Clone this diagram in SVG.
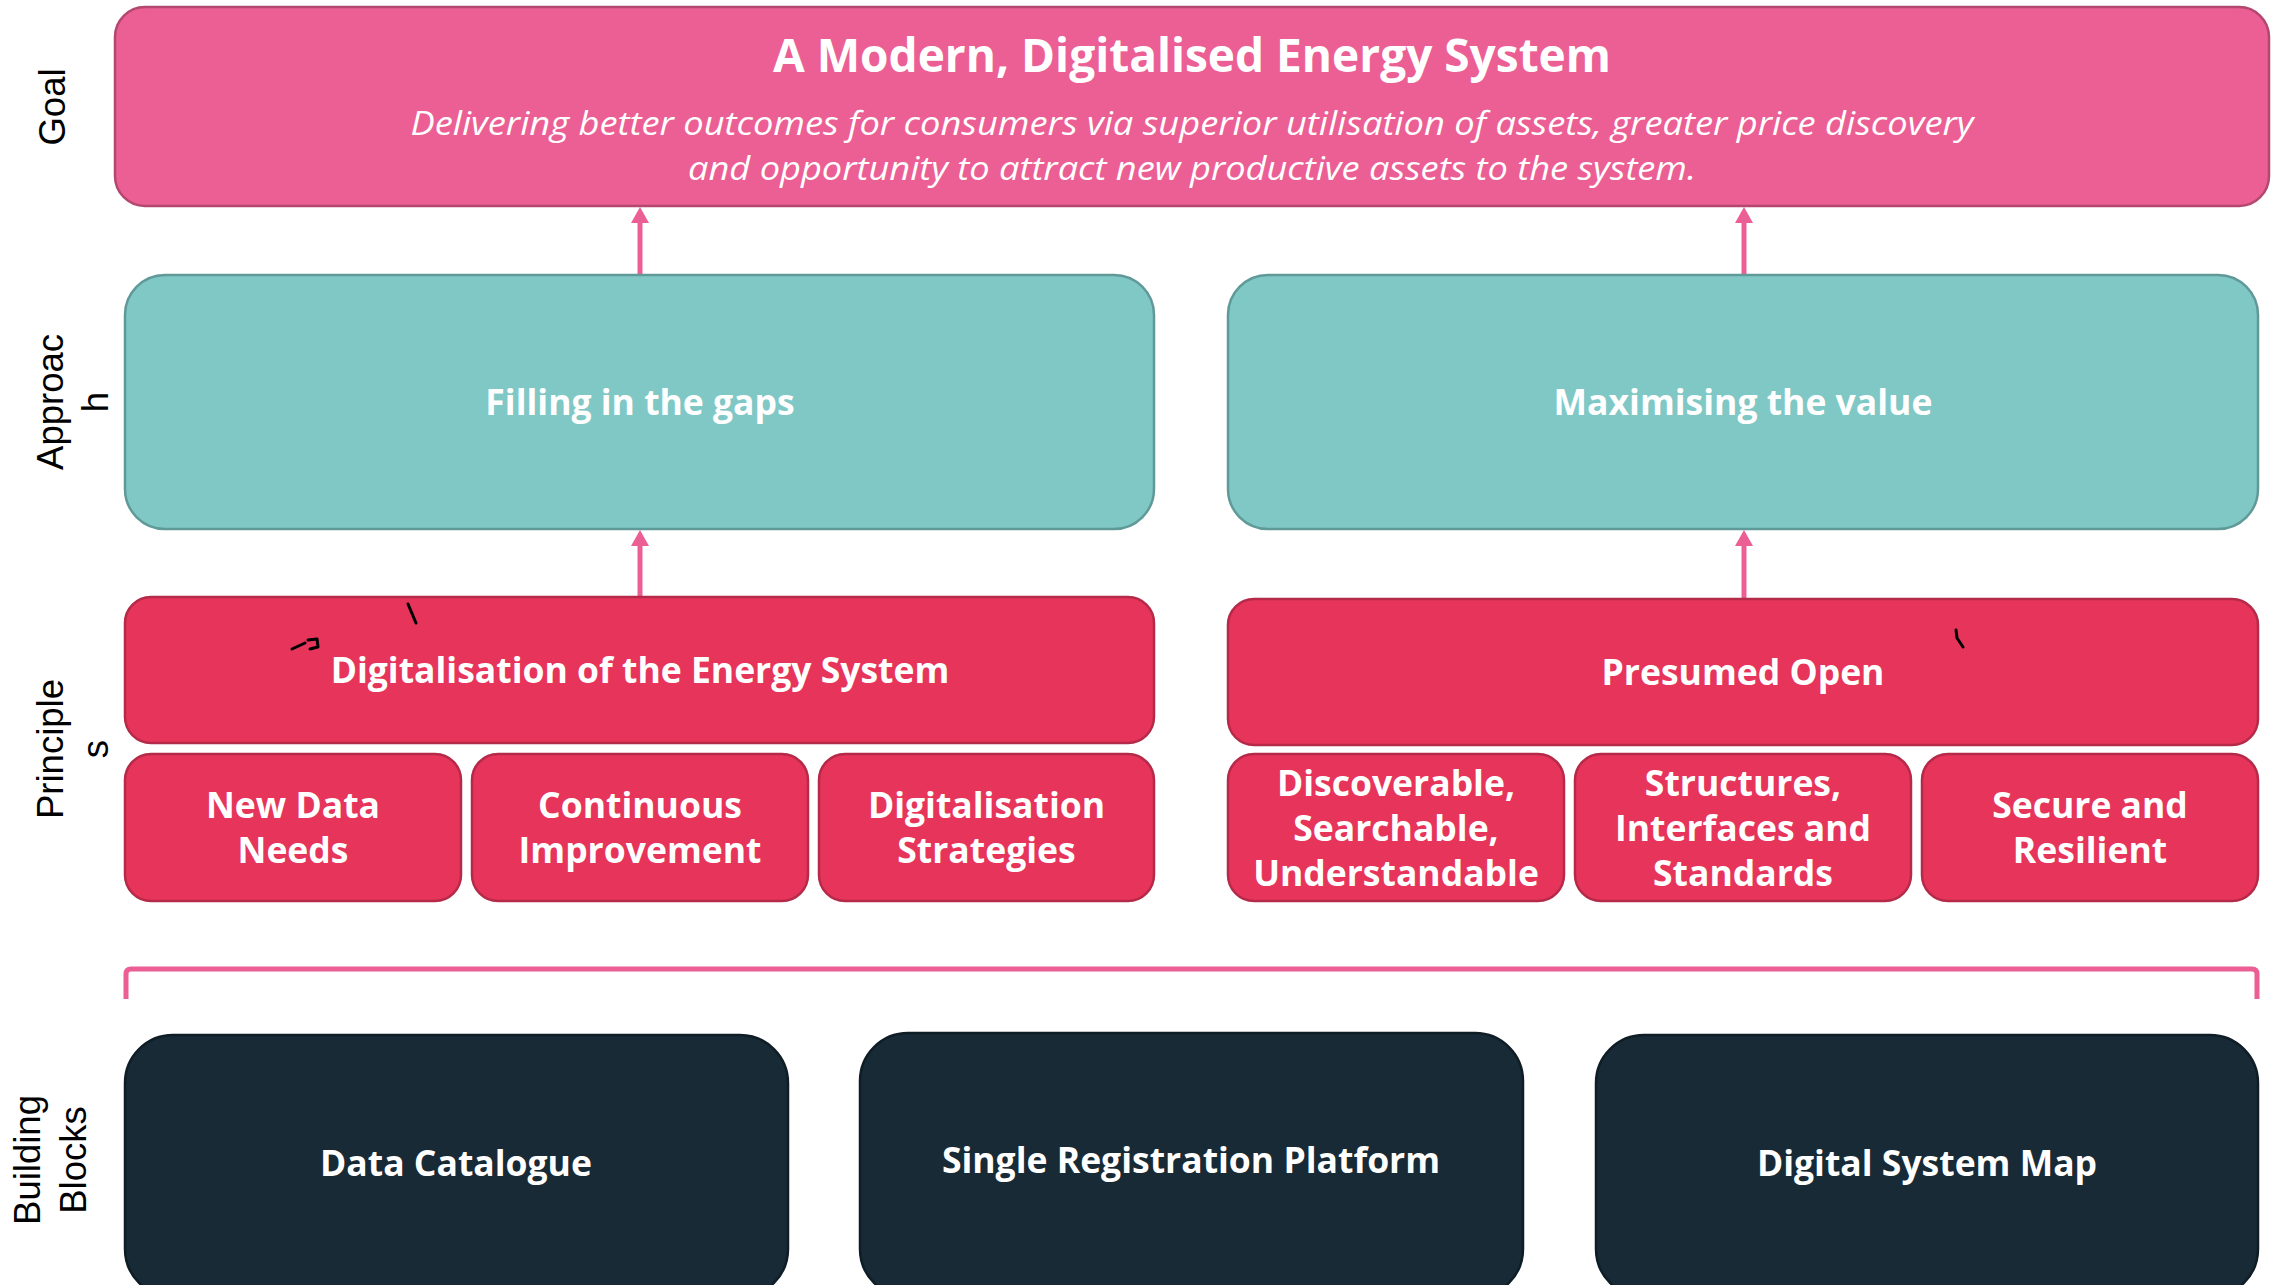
<svg xmlns="http://www.w3.org/2000/svg" width="2282" height="1285" viewBox="0 0 2282 1285">
  <defs>
    <style>
      .goal { fill: #EC5F95; stroke: #B4476F; stroke-width: 2.5; }
      .appr { fill: #80C8C6; stroke: #5F9A98; stroke-width: 2.5; }
      .prin { fill: #E7345A; stroke: #B52A48; stroke-width: 2.5; }
      .blk { fill: #182A35; stroke: #0F1D26; stroke-width: 2.5; }
      .lbl { font-family: "Open Sans", "Noto Sans", sans-serif; font-weight: 700; font-size: 35.5px; fill: #FFFFFF; text-anchor: middle; }
      .title { font-family: "Open Sans", "Noto Sans", sans-serif; font-weight: 700; font-size: 46px; fill: #FFFFFF; text-anchor: middle; }
      .sub { font-family: "Open Sans", "Noto Sans", sans-serif; font-style: italic; font-size: 33px; fill: #FFFFFF; text-anchor: middle; }
      .side { font-family: "Liberation Sans", Arial, sans-serif; font-size: 36.5px; fill: #000000; text-anchor: middle; }
      .conn { stroke: #EC5F95; stroke-width: 5; fill: none; }
      .mark { stroke: #000000; stroke-width: 3; fill: none; stroke-linecap: round; stroke-linejoin: round; }
    </style>
    <marker id="ah" viewBox="0 0 16 18" refX="8" refY="9" markerWidth="16" markerHeight="18" markerUnits="userSpaceOnUse" orient="auto">
      <path d="M0,0 L16,9 L0,18 z" fill="#EC5F95"/>
    </marker>
  </defs>
  <rect width="2282" height="1285" fill="#FFFFFF"/>

  <g id="side-labels">
    <text class="side" x="65" y="107" transform="rotate(-90 65 107)">Goal</text>
    <text class="side" transform="rotate(-90 63 402)" x="63" y="402">Approac</text>
    <text class="side" transform="rotate(-90 108 402)" x="108" y="402">h</text>
    <text class="side" transform="rotate(-90 63 749)" x="63" y="749">Principle</text>
    <text class="side" transform="rotate(-90 108 749)" x="108" y="749">s</text>
    <text class="side" transform="rotate(-90 40 1160)" x="40" y="1160">Building</text>
    <text class="side" transform="rotate(-90 86 1160)" x="86" y="1160">Blocks</text>
  </g>

  <g id="connectors">
    <line class="conn" x1="640" y1="275" x2="640" y2="215" marker-end="url(#ah)"/>
    <line class="conn" x1="1744" y1="275" x2="1744" y2="215" marker-end="url(#ah)"/>
    <line class="conn" x1="640" y1="597" x2="640" y2="538" marker-end="url(#ah)"/>
    <line class="conn" x1="1744" y1="599" x2="1744" y2="538" marker-end="url(#ah)"/>
    <path class="conn" d="M126,999 L126,974 Q126,969 131,969 L2252,969 Q2257,969 2257,974 L2257,999"/>
  </g>

  <g id="goal">
    <rect class="goal" x="115" y="7" width="2154" height="199" rx="30" ry="30"/>
    <text class="title" x="1192" y="72">A Modern, Digitalised Energy System</text>
    <text class="sub" x="1192" y="135" textLength="1563" lengthAdjust="spacingAndGlyphs">Delivering better outcomes for consumers via superior utilisation of assets, greater price discovery</text>
    <text class="sub" x="1192" y="180" textLength="1008" lengthAdjust="spacingAndGlyphs">and opportunity to attract new productive assets to the system.</text>
  </g>

  <g id="approach-filling">
    <rect class="appr" x="125" y="275" width="1029" height="254" rx="40" ry="40"/>
    <text class="lbl" x="640" y="415">Filling in the gaps</text>
  </g>
  <g id="approach-maximising">
    <rect class="appr" x="1228" y="275" width="1030" height="254" rx="40" ry="40"/>
    <text class="lbl" x="1743" y="415">Maximising the value</text>
  </g>

  <g id="principle-digitalisation">
    <rect class="prin" x="125" y="597" width="1029" height="146" rx="26" ry="26"/>
    <text class="lbl" x="640" y="683">Digitalisation of the Energy System</text>
  </g>
  <g id="principle-presumed-open">
    <rect class="prin" x="1228" y="599" width="1030" height="146" rx="26" ry="26"/>
    <text class="lbl" x="1743" y="685">Presumed Open</text>
  </g>

  <g id="new-data-needs">
    <rect class="prin" x="125" y="754" width="336" height="147" rx="26" ry="26"/>
    <text class="lbl" x="293" y="818">New Data</text>
    <text class="lbl" x="293" y="863">Needs</text>
  </g>
  <g id="continuous-improvement">
    <rect class="prin" x="472" y="754" width="336" height="147" rx="26" ry="26"/>
    <text class="lbl" x="640" y="818">Continuous</text>
    <text class="lbl" x="640" y="863">Improvement</text>
  </g>
  <g id="digitalisation-strategies">
    <rect class="prin" x="819" y="754" width="335" height="147" rx="26" ry="26"/>
    <text class="lbl" x="986.5" y="818">Digitalisation</text>
    <text class="lbl" x="986.5" y="863">Strategies</text>
  </g>
  <g id="discoverable">
    <rect class="prin" x="1228" y="754" width="336" height="147" rx="26" ry="26"/>
    <text class="lbl" x="1396" y="796">Discoverable,</text>
    <text class="lbl" x="1396" y="841">Searchable,</text>
    <text class="lbl" x="1396" y="886">Understandable</text>
  </g>
  <g id="structures">
    <rect class="prin" x="1575" y="754" width="336" height="147" rx="26" ry="26"/>
    <text class="lbl" x="1743" y="796">Structures,</text>
    <text class="lbl" x="1743" y="841">Interfaces and</text>
    <text class="lbl" x="1743" y="886">Standards</text>
  </g>
  <g id="secure-resilient">
    <rect class="prin" x="1922" y="754" width="336" height="147" rx="26" ry="26"/>
    <text class="lbl" x="2090" y="818">Secure and</text>
    <text class="lbl" x="2090" y="863">Resilient</text>
  </g>

  <g id="data-catalogue">
    <rect class="blk" x="125" y="1035" width="663" height="262" rx="48" ry="48"/>
    <text class="lbl" x="456" y="1176">Data Catalogue</text>
  </g>
  <g id="single-registration-platform">
    <rect class="blk" x="860" y="1033" width="663" height="264" rx="48" ry="48"/>
    <text class="lbl" x="1191" y="1173">Single Registration Platform</text>
  </g>
  <g id="digital-system-map">
    <rect class="blk" x="1596" y="1035" width="662" height="262" rx="48" ry="48"/>
    <text class="lbl" x="1927" y="1176">Digital System Map</text>
  </g>

  <g id="marks">
    <path class="mark" d="M408,604 L416,623"/>
    <path class="mark" d="M292,649 L305,643"/>
    <path class="mark" d="M308,640 L317,639 L318,647 L310,649"/>
    <path class="mark" d="M1956,630 L1957,638 L1963,647" stroke-width="4"/>
  </g>
</svg>
